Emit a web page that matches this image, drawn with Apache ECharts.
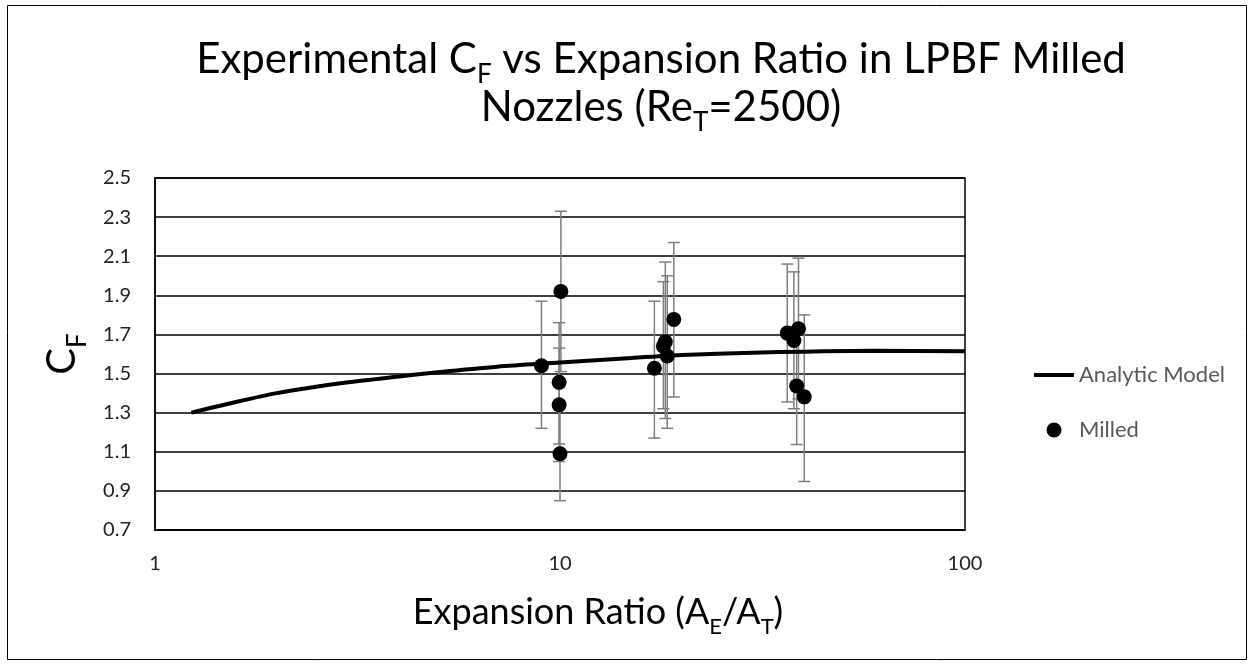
<!DOCTYPE html>
<html><head><meta charset="utf-8">
<script src="https://cdn.jsdelivr.net/npm/echarts@6/dist/echarts.min.js"></script>
<style>html,body{margin:0;padding:0;background:#fff}#c{width:1254px;height:665px}</style>
</head><body><div id="c"></div>
<script>
// Analytic model curve (expansion ratio, CF)
const modelX = [1.23, 1.5, 2, 3, 4, 5, 7, 10, 15, 20, 30, 40, 60, 100];
const modelY = [1.30, 1.343, 1.40, 1.455, 1.485, 1.507, 1.535, 1.556, 1.580, 1.595, 1.607, 1.612, 1.616, 1.614];
// Milled measurements
const milledX  = [9.0, 10.05, 9.95, 9.95, 10.0, 17.1, 18.0, 18.2, 18.4, 19.1, 36.4, 38.8, 37.8, 38.4, 40.1];
const milledY  = [1.54, 1.92, 1.455, 1.34, 1.09, 1.527, 1.64, 1.663, 1.59, 1.777, 1.707, 1.729, 1.669, 1.437, 1.381];
const milledLo = [1.22, 1.51, 1.14, 1.05, 0.85, 1.17, 1.32, 1.27, 1.22, 1.38, 1.355, 1.37, 1.32, 1.137, 0.948];
const milledHi = [1.87, 2.33, 1.76, 1.63, 1.33, 1.87, 1.97, 2.07, 2.00, 2.17, 2.06, 2.09, 2.02, 1.74, 1.80];
const yTicks = ['0.7','0.9','1.1','1.3','1.5','1.7','1.9','2.1','2.3','2.5'];
const xTicks = ['1','10','100'];

const FONT = 'Lato';
const chart = echarts.init(document.getElementById('c'), null, {renderer:'canvas'});
const subStyle = (fs) => ({fontSize: fs, fontFamily: FONT, fontWeight:'normal', color:'#000', verticalAlign:'bottom'});

chart.setOption({
  animation:false,
  backgroundColor:'#fff',
  graphic:[{type:'rect', shape:{x:7.5,y:5.5,width:1239,height:654}, style:{fill:'none', stroke:'#000', lineWidth:1}, silent:true}],
  title:{
    text:'{m|Experimental C}{s|F}{m| vs Expansion Ratio in LPBF Milled}\n{m|Nozzles (Re}{s|T}{m|=2500)}',
    left:656, textAlign:'center', top:30,
    textStyle:{
      fontWeight:'normal',
      rich:{
        m:{fontSize:42, fontFamily:FONT, fontWeight:'normal', color:'#000', lineHeight:48},
        s:Object.assign(subStyle(26), {lineHeight:22, padding:[0,0,-5,0]})
      }
    }
  },
  legend:{
    data:[{name:'Analytic Model', icon:'path://M0,0L40,0L40,4L0,4Z'}, {name:'Milled', icon:'circle'}],
    orient:'vertical', left:1029, top:359,
    itemWidth:40, itemHeight:15, itemGap:33,
    textStyle:{fontFamily:FONT, fontSize:22, color:'#595959'}
  },
  grid:{left:155, right:289, top:178, bottom:135, show:true, borderColor:'#000', borderWidth:1.5},
  xAxis:{
    type:'log', logBase:10, min:1, max:100,
    name:'{m|Expansion Ratio (A}{s|E}{m|/A}{s|T}{m|)}', nameLocation:'middle', nameGap:62,
    nameTextStyle:{padding:[0,0,0,76], rich:{m:{fontSize:36, fontFamily:FONT, color:'#000', lineHeight:40}, s:Object.assign(subStyle(22), {lineHeight:20, padding:[0,0,-6,0]})}},
    axisLine:{show:true, lineStyle:{color:'#000', width:1.5}},
    axisTick:{show:false}, splitLine:{show:false}, minorTick:{show:false},
    axisLabel:{fontFamily:FONT, fontSize:20, color:'#222', margin:24,
      formatter:(v)=>{const s=String(Math.round(v)); return xTicks.indexOf(s)>=0?s:'';}}
  },
  yAxis:{
    type:'value', min:0.7, max:2.5, interval:0.2,
    name:'{m|C}{s|F}', nameLocation:'middle', nameGap:70, nameRotate:90,
    nameTextStyle:{rich:{m:{fontSize:40, fontFamily:FONT, color:'#000', lineHeight:46}, s:Object.assign(subStyle(26), {lineHeight:22, padding:[0,0,-6,0]})}},
    axisLine:{show:true, lineStyle:{color:'#000', width:1.5}},
    axisTick:{show:false},
    splitLine:{show:true, lineStyle:{color:'#000', width:1.5}},
    axisLabel:{fontFamily:FONT, fontSize:20, color:'#222', margin:24,
      formatter:(v)=>{const i=Math.round((v-0.7)/0.2); return yTicks[i]||'';}}
  },
  series:[
    {
      name:'Milled errors', type:'custom', z:2, silent:true,
      data: milledX.map((x,i)=>[x, milledLo[i], milledHi[i]]),
      encode:{x:0, y:[1,2]},
      renderItem:(params, api)=>{
        const x = api.value(0);
        const lo = api.coord([x, api.value(1)]);
        const hi = api.coord([x, api.value(2)]);
        const hw = 6;
        const st = {stroke:'#7f7f7f', lineWidth:1.5};
        return {type:'group', children:[
          {type:'line', shape:{x1:lo[0],y1:lo[1],x2:hi[0],y2:hi[1]}, style:st},
          {type:'line', shape:{x1:lo[0]-hw,y1:lo[1],x2:lo[0]+hw,y2:lo[1]}, style:st},
          {type:'line', shape:{x1:hi[0]-hw,y1:hi[1],x2:hi[0]+hw,y2:hi[1]}, style:st}
        ]};
      }
    },
    {
      name:'Analytic Model', type:'line', z:3, symbol:'none', smooth:0.3,
      data: modelX.map((x,i)=>[x, modelY[i]]),
      lineStyle:{color:'#000', width:4}, itemStyle:{color:'#000'}
    },
    {
      name:'Milled', type:'scatter', z:4, symbol:'circle', symbolSize:15,
      data: milledX.map((x,i)=>[x, milledY[i]]),
      itemStyle:{color:'#000', opacity:1}
    }
  ]
});
</script></body></html>
